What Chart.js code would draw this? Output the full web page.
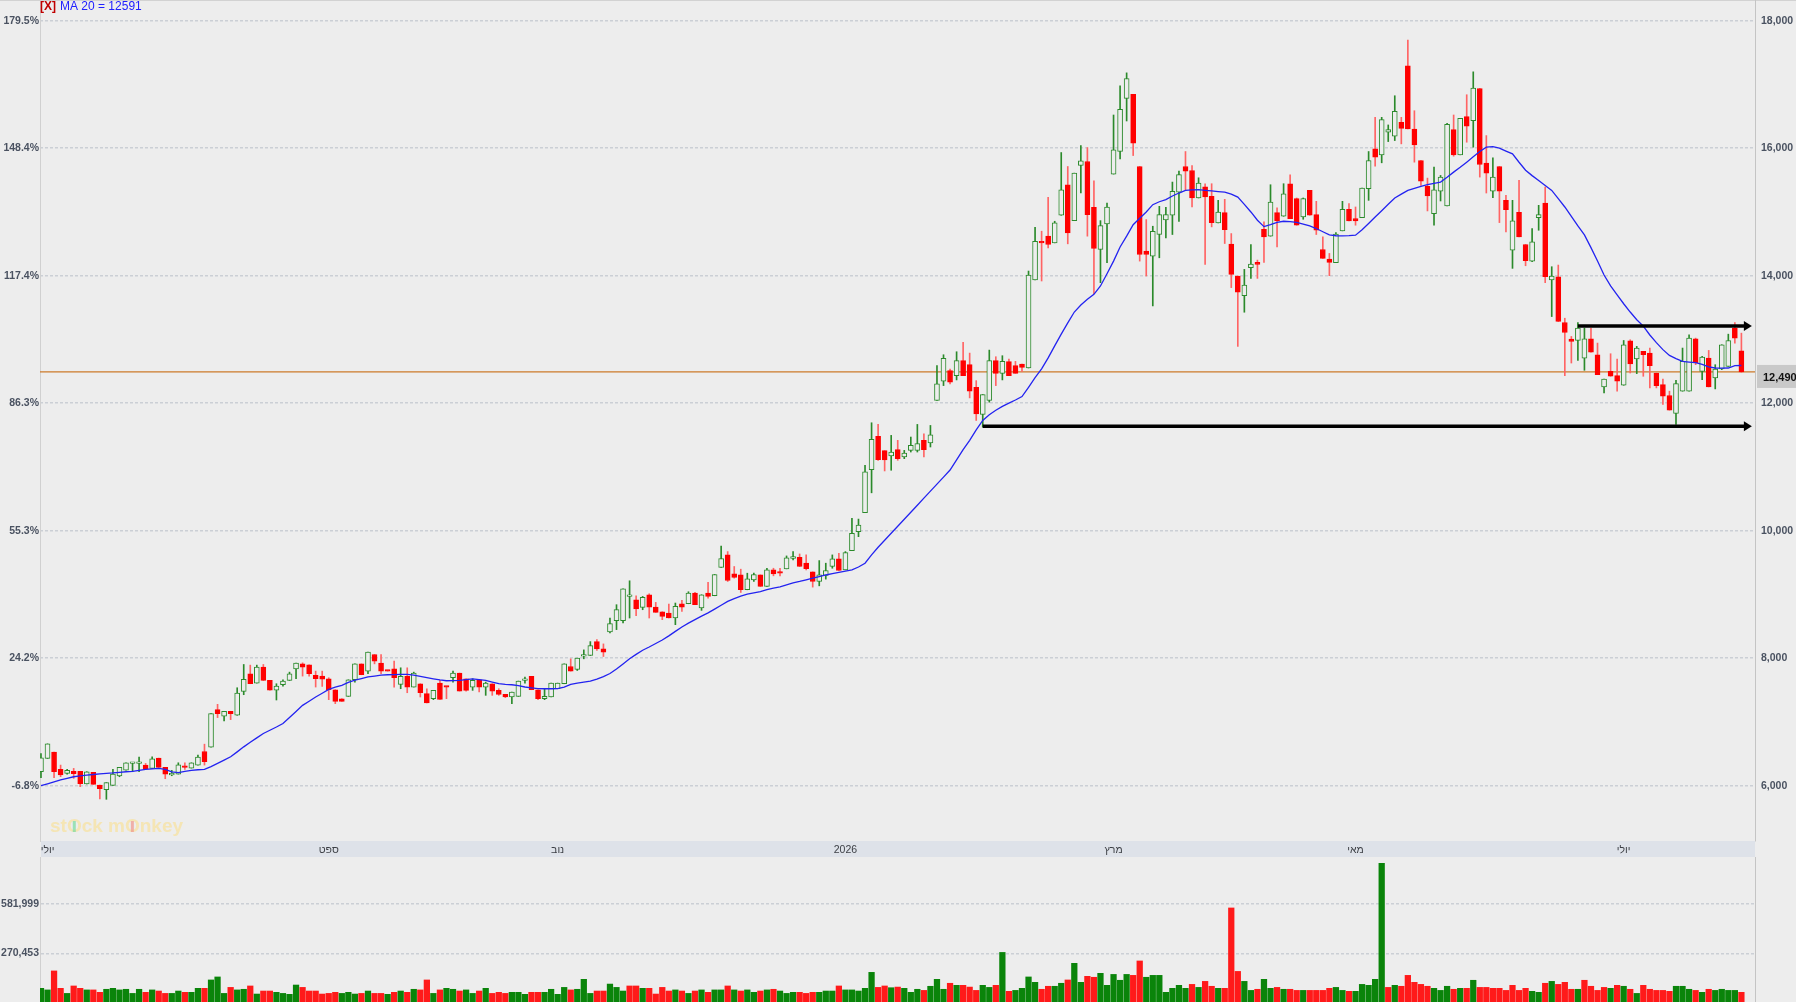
<!DOCTYPE html>
<html lang="he">
<head>
<meta charset="utf-8">
<title>MA 20</title>
<script src="https://cdn.jsdelivr.net/npm/chart.js@4.4.1/dist/chart.umd.min.js"></script>
<style>
  html, body { margin: 0; padding: 0; background: #ededed; }
  #wrap { position: relative; width: 1796px; height: 1002px; overflow: hidden; background: #ededed; }
  #priceChart { position: absolute; left: 0; top: 0; }
  #volChart { position: absolute; left: 0; top: 857px; }
</style>
</head>
<body>
<div id="wrap">
  <canvas id="priceChart" width="1796" height="857"></canvas>
  <canvas id="volChart" width="1796" height="145"></canvas>
</div>
<script>
// נתוני נרות יומיים (פתיחה / גבוה / נמוך / סגירה)
const candleOpen = [
  6219, 6427, 6526, 6255, 6193, 6224, 6224, 6026, 6208, 6010,
  5938, 6005, 6151, 6245, 6349, 6349, 6323, 6271, 6432, 6286,
  6167, 6182, 6307, 6276, 6323, 6536, 6604, 7193, 7089, 7167,
  7104, 7479, 7755, 7609, 7859, 7651, 7500, 7583, 7651, 7833,
  7911, 7896, 7729, 7719, 7677, 7505, 7364, 7401, 7661, 7911,
  7797, 8057, 7922, 7807, 7833, 7589, 7714, 7547, 7599, 7443,
  7365, 7609, 7557, 7693, 7766, 7677, 7547, 7661, 7547, 7599,
  7495, 7432, 7391, 7401, 7651, 7714, 7505, 7365, 7391, 7521,
  7599, 7870, 7823, 8031, 8042, 8260, 8146, 8412, 8589, 8589,
  8969, 8917, 8797, 8995, 8802, 8729, 8708, 8630, 8854, 8854,
  9021, 8787, 9021, 8979, 9422, 9620, 9323, 9307, 9073, 9229,
  9307, 9125, 9385, 9344, 9401, 9563, 9583, 9490, 9354, 9203,
  9297, 9438, 9557, 9385, 9688, 9984, 10281, 10958, 11479, 11255,
  11172, 11271, 11156, 11260, 11260, 11417, 11375, 12042, 12344, 12510,
  12432, 12667, 12604, 12250, 11823, 12042, 12667, 12469, 12651, 12589,
  12615, 12552, 13932, 14536, 14620, 14515, 14948, 15427, 14864, 15729,
  15791, 15073, 14411, 14812, 15594, 15948, 16781, 16844, 15713, 14385,
  14307, 14646, 14875, 14948, 15310, 15713, 15651, 15219, 15396, 15245,
  14828, 14990, 14495, 13995, 13688, 14125, 14208, 14729, 14620, 14990,
  14932, 15443, 15208, 14922, 15338, 14958, 14411, 14260, 14203, 14703,
  15042, 14896, 14911, 15365, 15990, 15896, 16250, 16187, 16406, 17292,
  16302, 15807, 15401, 14974, 15328, 15094, 16292, 15896, 16495, 16432,
  16937, 15766, 15328, 15713, 15182, 14401, 14995, 14490, 14229, 14911,
  15141, 13932, 13984, 13266, 13005, 12984, 12708, 13010, 12760, 12255,
  12500, 12432, 12281, 12979, 12693, 12813, 12786, 12474, 12292, 12120,
  11839, 12188, 12188, 13010, 12500, 12708, 12396, 12536, 12578, 13177, 12823
];
const candleHigh = [
  6505, 6656, 6526, 6323, 6255, 6271, 6224, 6219, 6208, 6010,
  6047, 6255, 6286, 6359, 6365, 6448, 6349, 6453, 6432, 6286,
  6240, 6359, 6359, 6359, 6479, 6651, 7130, 7276, 7167, 7167,
  7536, 7901, 7891, 7891, 7901, 7651, 7599, 7661, 7781, 7922,
  7927, 7896, 7797, 7797, 7693, 7505, 7364, 7661, 7911, 7911,
  8094, 8057, 8057, 7807, 7953, 7849, 7849, 7781, 7599, 7521,
  7495, 7651, 7557, 7797, 7766, 7677, 7677, 7661, 7625, 7599,
  7521, 7432, 7469, 7641, 7703, 7714, 7505, 7521, 7609, 7609,
  7911, 7990, 8000, 8130, 8260, 8292, 8224, 8630, 8839, 9089,
  9214, 8979, 8969, 9010, 8875, 8729, 8849, 8865, 8906, 9042,
  9031, 8995, 9188, 9313, 9760, 9672, 9438, 9396, 9333, 9333,
  9307, 9411, 9411, 9411, 9604, 9672, 9635, 9620, 9354, 9531,
  9490, 9620, 9646, 9672, 10193, 10182, 11026, 11693, 11667, 11255,
  11495, 11417, 11260, 11469, 11667, 11521, 11651, 12589, 12760, 12536,
  12807, 12953, 12786, 12354, 12135, 12833, 12729, 12745, 12693, 12656,
  12615, 14073, 14760, 14698, 15229, 14854, 15932, 15713, 15609, 16042,
  16010, 15489, 14864, 15140, 16521, 16979, 17182, 16844, 15713, 14880,
  14776, 15088, 15073, 15469, 15640, 15948, 15729, 15536, 15443, 15443,
  15182, 15198, 14661, 13995, 14099, 14490, 14245, 14844, 15427, 15063,
  15443, 15583, 15219, 15219, 15338, 15167, 14609, 14349, 14677, 15167,
  15130, 15078, 15375, 15948, 16484, 16484, 16365, 16823, 16484, 17698,
  16588, 15807, 15531, 15703, 15573, 16391, 16521, 16469, 16839, 17198,
  16937, 16198, 15849, 15713, 15260, 15182, 15495, 14490, 14740, 15104,
  15391, 14141, 14167, 13333, 13047, 13266, 13177, 13177, 12943, 12380,
  12776, 12693, 12984, 12995, 12891, 12813, 12865, 12474, 12380, 12188,
  12359, 12865, 13073, 13021, 12734, 12828, 12604, 12917, 13083, 13266, 13099
];
const candleLow = [
  6125, 6427, 6125, 6141, 6182, 6115, 5984, 6026, 6021, 5792,
  5786, 6005, 6140, 6245, 6219, 6219, 6266, 6271, 6286, 6109,
  6156, 6182, 6255, 6276, 6323, 6323, 6604, 7068, 7016, 7036,
  7104, 7427, 7599, 7609, 7651, 7500, 7344, 7562, 7651, 7677,
  7719, 7719, 7547, 7557, 7349, 7286, 7323, 7401, 7625, 7740,
  7755, 7911, 7755, 7797, 7547, 7521, 7458, 7547, 7391, 7297,
  7349, 7354, 7365, 7625, 7484, 7484, 7495, 7469, 7417, 7417,
  7417, 7380, 7286, 7401, 7609, 7505, 7349, 7349, 7391, 7521,
  7599, 7797, 7807, 7990, 8042, 8120, 8026, 8396, 8448, 8552,
  8630, 8667, 8760, 8630, 8719, 8604, 8630, 8526, 8734, 8854,
  8839, 8750, 8943, 8979, 9422, 9203, 9255, 9031, 9073, 9203,
  9125, 9125, 9292, 9292, 9401, 9542, 9438, 9385, 9115, 9135,
  9240, 9411, 9375, 9385, 9688, 9906, 10281, 10594, 11104, 10937,
  10948, 11104, 11130, 11234, 11234, 11156, 11313, 12042, 12276, 12302,
  12365, 12432, 12083, 11729, 11625, 12016, 12276, 12365, 12432, 12469,
  12495, 12552, 13932, 13917, 14437, 14515, 14948, 14500, 14864, 15297,
  14620, 13719, 13891, 14203, 15594, 15833, 16427, 15885, 14229, 13995,
  13526, 14281, 14594, 14646, 14850, 15338, 15078, 15219, 14177, 14766,
  14828, 14505, 13813, 12891, 13427, 13958, 13958, 14208, 14620, 14453,
  14932, 14896, 14792, 14885, 14948, 14646, 14271, 14000, 14203, 14703,
  14859, 14792, 14911, 15182, 15719, 15771, 16104, 16120, 16068, 16302,
  15781, 15417, 15016, 14792, 15172, 15094, 15875, 15896, 16094, 16016,
  15547, 15297, 15224, 14833, 14687, 14115, 14609, 14156, 14219, 14713,
  13891, 13359, 13281, 12432, 12630, 12672, 12516, 12802, 12448, 12162,
  12422, 12188, 12281, 12474, 12464, 12422, 12240, 12240, 11979, 11891,
  11667, 12188, 12188, 12604, 12370, 12255, 12224, 12526, 12578, 12943, 12484
];
const candleClose = [
  6437, 6656, 6219, 6167, 6240, 6188, 6031, 6219, 6021, 5953,
  6047, 6182, 6286, 6359, 6359, 6359, 6266, 6422, 6286, 6182,
  6193, 6328, 6286, 6359, 6448, 6375, 7130, 7130, 7167, 7130,
  7453, 7667, 7599, 7859, 7651, 7500, 7562, 7641, 7755, 7922,
  7859, 7755, 7677, 7672, 7505, 7323, 7323, 7661, 7911, 7740,
  8094, 7953, 7797, 7797, 7693, 7714, 7547, 7766, 7458, 7297,
  7495, 7354, 7547, 7766, 7484, 7495, 7651, 7547, 7609, 7484,
  7432, 7391, 7469, 7641, 7661, 7505, 7365, 7401, 7609, 7609,
  7911, 7797, 8000, 8042, 8198, 8146, 8094, 8542, 8761, 9089,
  8995, 8771, 8953, 8802, 8719, 8656, 8630, 8813, 8802, 9021,
  8839, 8995, 8969, 9313, 9563, 9219, 9266, 9073, 9245, 9313,
  9125, 9385, 9323, 9333, 9573, 9594, 9438, 9406, 9203, 9307,
  9375, 9557, 9375, 9656, 9958, 10089, 10922, 11432, 11115, 11110,
  11234, 11130, 11219, 11339, 11365, 11271, 11505, 12302, 12703, 12328,
  12667, 12432, 12187, 11833, 12135, 12667, 12469, 12656, 12432, 12469,
  12562, 14010, 14541, 14515, 14489, 14828, 15349, 14672, 15609, 15802,
  14958, 14427, 14786, 15078, 15974, 16609, 17094, 16078, 14333, 14333,
  14698, 14958, 14958, 15323, 15585, 15641, 15219, 15453, 15234, 14833,
  15000, 14724, 14021, 13740, 13854, 14182, 14177, 14609, 15156, 14859,
  15286, 14896, 14792, 15208, 14948, 14713, 14271, 14208, 14651, 15042,
  14859, 14859, 15375, 15807, 15859, 16448, 16292, 16578, 16312, 16302,
  16052, 15484, 15250, 15349, 15547, 16375, 15896, 16469, 16344, 16943,
  15745, 15609, 15547, 15328, 15036, 14859, 14609, 14234, 14531, 14958,
  13984, 13995, 13281, 13109, 12969, 13177, 13010, 12802, 12448, 12380,
  12422, 12344, 12917, 12615, 12865, 12760, 12589, 12276, 12109, 11891,
  12307, 12656, 13021, 12630, 12724, 12255, 12536, 12917, 12984, 13021, 12490
];
// ממוצע נע 20 כפי שנקרא מהגרף
const ma20 = [
  6000, 6030, 6060, 6090, 6115, 6140, 6155, 6167, 6175, 6185,
  6193, 6200, 6210, 6218, 6225, 6240, 6255, 6265, 6271, 6255,
  6215, 6205, 6225, 6240, 6250, 6255, 6300, 6349, 6400, 6453,
  6530, 6609, 6680, 6750, 6818, 6870, 6920, 6974, 7070, 7165,
  7260, 7325, 7391, 7450, 7510, 7545, 7573, 7620, 7655, 7680,
  7705, 7720, 7735, 7740, 7742, 7745, 7745, 7735, 7715, 7695,
  7677, 7660, 7646, 7648, 7651, 7662, 7675, 7665, 7652, 7625,
  7600, 7590, 7583, 7570, 7548, 7535, 7522, 7520, 7520, 7522,
  7545, 7590, 7610, 7625, 7640, 7670, 7710, 7760, 7830, 7910,
  7990, 8060, 8125, 8175, 8230, 8285, 8350, 8420, 8490, 8550,
  8605, 8660, 8710, 8770, 8830, 8890, 8935, 8975, 9005, 9025,
  9045, 9075, 9100, 9120, 9150, 9180, 9203, 9230, 9255, 9280,
  9305, 9325, 9345, 9365, 9385, 9430, 9490, 9620, 9740, 9850,
  9960, 10070, 10180, 10290, 10400, 10510, 10620, 10730, 10840, 10952,
  11110, 11270, 11417, 11580, 11729, 11820, 11890, 11950, 12000, 12050,
  12104, 12250, 12400, 12540, 12710, 12900, 13083, 13260, 13430, 13540,
  13630, 13708, 13839, 14030, 14229, 14450, 14620, 14800, 14900, 15000,
  15114, 15160, 15193, 15250, 15297, 15338, 15345, 15349, 15340, 15330,
  15320, 15312, 15280, 15234, 15120, 15000, 14870, 14770, 14800, 14835,
  14854, 14848, 14837, 14810, 14780, 14740, 14690, 14640, 14627, 14625,
  14628, 14635, 14720, 14820, 14922, 15020, 15120, 15219, 15280, 15338,
  15370, 15400, 15427, 15450, 15469, 15545, 15625, 15700, 15781, 15865,
  15948, 16016, 16025, 16000, 15955, 15911, 15780, 15655, 15570, 15495,
  15415, 15338, 15210, 15078, 14930, 14780, 14640, 14440, 14230, 14010,
  13840, 13700, 13560, 13430, 13310, 13210, 13070, 12950, 12840, 12750,
  12700, 12656, 12645, 12635, 12610, 12570, 12552, 12550, 12552, 12590, 12591
];
// מחזור מסחר
const volume = [
  49000, 39000, 159000, 49000, 17000, 64000, 49000, 39000, 39000, 24000,
  43000, 49000, 39000, 43000, 17000, 43000, 24000, 39000, 32000, 17000,
  17000, 32000, 24000, 24000, 49000, 49000, 102000, 121000, 17000, 55000,
  39000, 43000, 64000, 13000, 32000, 32000, 24000, 17000, 11000, 70000,
  55000, 32000, 32000, 13000, 17000, 24000, 17000, 24000, 13000, 17000,
  32000, 17000, 17000, 11000, 24000, 32000, 24000, 43000, 39000, 102000,
  17000, 39000, 49000, 43000, 32000, 39000, 17000, 32000, 49000, 17000,
  24000, 17000, 24000, 24000, 11000, 24000, 24000, 24000, 43000, 11000,
  55000, 39000, 43000, 106000, 17000, 32000, 32000, 76000, 55000, 32000,
  64000, 64000, 49000, 49000, 13000, 55000, 32000, 39000, 32000, 17000,
  32000, 39000, 24000, 39000, 39000, 64000, 39000, 32000, 39000, 24000,
  32000, 39000, 43000, 32000, 17000, 24000, 24000, 17000, 24000, 24000,
  32000, 32000, 64000, 39000, 39000, 32000, 49000, 150000, 55000, 64000,
  53000, 57000, 49000, 24000, 43000, 36000, 62000, 106000, 43000, 81000,
  68000, 68000, 57000, 36000, 68000, 55000, 68000, 276000, 30000, 36000,
  49000, 121000, 87000, 43000, 62000, 62000, 81000, 102000, 207000, 87000,
  125000, 119000, 144000, 68000, 137000, 100000, 137000, 131000, 222000, 119000,
  131000, 131000, 24000, 49000, 68000, 49000, 74000, 55000, 93000, 62000,
  49000, 49000, 557000, 156000, 93000, 36000, 43000, 106000, 49000, 55000,
  43000, 43000, 36000, 36000, 36000, 36000, 36000, 49000, 55000, 36000,
  30000, 30000, 74000, 68000, 106000, 839000, 55000, 68000, 62000, 131000,
  87000, 74000, 62000, 49000, 36000, 62000, 43000, 49000, 49000, 100000,
  55000, 55000, 49000, 49000, 36000, 68000, 36000, 49000, 30000, 24000,
  81000, 93000, 74000, 87000, 43000, 43000, 100000, 62000, 36000, 55000,
  49000, 68000, 62000, 43000, 17000, 68000, 43000, 36000, 36000, 30000,
  62000, 62000, 43000, 36000, 24000, 43000, 36000, 43000, 36000, 36000, 24000
];

// תוויות ציר הזמן (מיקום הנר והטקסט)
const monthTickIdx = [1, 44, 79, 123, 164, 201, 242];
const monthLabels = ['יולי', 'ספט', 'נוב', '2026', 'מרץ', 'מאי', 'יולי'];

const priceTicks = [6000, 8000, 10000, 12000, 14000, 16000, 18000];
const volumeTicks = [270453, 581999];
const refPrice = 6440;      // בסיס לחישוב האחוזים בציר השמאלי
const lastPrice = 12490;
const levelPrices = [11640, 13211];
const levelStartIdx = [144, 235];
const levelEndIdx = 261.6;

const X_MIN = -0.15, X_MAX = 262.08;
const FONT = 'Arial, "Liberation Sans", "DejaVu Sans", sans-serif';
Chart.defaults.font.family = FONT;

const UP_LINE = '#2b8a2b';
const DOWN_FILL = '#ff0000';
const BG = '#ededed';
const AXIS_TEXT = '#4a5261';

const isUp = i => candleClose[i] >= candleOpen[i];

const bodyData = candleOpen.map((o, i) => ({ x: i, y: [o, candleClose[i]] }));
const wickData = candleLow.map((l, i) => ({ x: i, y: [l, candleHigh[i]] }));
const maData = ma20.map((v, i) => ({ x: i, y: v }));

const gridStyle = { color: '#cbcfd5', lineWidth: 1.5, drawTicks: false };
const axisFont = { size: 10.5, weight: 'bold' };

// רוחב קבוע לציר, בלי ריפוד אוטומטי של Chart.js
function fixWidth(w) {
  return s => { s.width = w; s.paddingTop = 0; s.paddingBottom = 0; };
}

// קישוטים: פס תאריכים, קו מחיר אחרון, חיצים, מקרא
const priceDecor = {
  id: 'priceDecor',
  beforeDraw(chart) {
    const { ctx, chartArea: a } = chart;
    ctx.save();
    ctx.fillStyle = '#dee2e9';
    ctx.fillRect(a.left + 1, a.bottom, a.right - a.left - 1, chart.height - a.bottom);
    ctx.strokeStyle = '#d2d2d2';
    ctx.lineWidth = 1;
    ctx.beginPath();
    ctx.moveTo(0, 0.5);
    ctx.lineTo(chart.width, 0.5);
    ctx.stroke();
    // סימן מים
    ctx.font = 'bold 19px ' + FONT;
    ctx.textBaseline = 'middle';
    const parts = ['st', 'O', 'ck m', 'O', 'nkey'];
    let x = 50;
    parts.forEach((p, i) => {
      ctx.fillStyle = 'rgba(247, 226, 160, 0.75)';
      ctx.fillText(p, x, 827);
      const w = ctx.measureText(p).width;
      if (p === 'O') {
        ctx.fillStyle = i === 1 ? 'rgba(120, 220, 160, 0.7)' : 'rgba(240, 150, 140, 0.7)';
        ctx.fillRect(x + w / 2 - 1.5, 821, 3, 11);
      }
      x += w;
    });
    ctx.restore();
  },
  beforeDatasetsDraw(chart) {
    const { ctx, chartArea: a, scales } = chart;
    const y = scales.y.getPixelForValue(lastPrice);
    ctx.save();
    ctx.strokeStyle = '#cc7a2a';
    ctx.lineWidth = 1.2;
    ctx.beginPath();
    ctx.moveTo(a.left, y);
    ctx.lineTo(a.right, y);
    ctx.stroke();
    ctx.restore();
  },
  afterDatasetsDraw(chart) {
    const { ctx, scales } = chart;
    ctx.save();
    ctx.strokeStyle = '#000';
    ctx.fillStyle = '#000';
    ctx.lineWidth = 3.5;
    levelPrices.forEach((p, i) => {
      const y = scales.y.getPixelForValue(p);
      const x0 = scales.x.getPixelForValue(levelStartIdx[i]);
      const x1 = scales.x.getPixelForValue(levelEndIdx);
      ctx.beginPath();
      ctx.moveTo(x0, y);
      ctx.lineTo(x1 - 6, y);
      ctx.stroke();
      ctx.beginPath();
      ctx.moveTo(x1 - 8, y - 5);
      ctx.lineTo(x1, y);
      ctx.lineTo(x1 - 8, y + 5);
      ctx.closePath();
      ctx.fill();
    });
    ctx.restore();
  },
  afterDraw(chart) {
    const { ctx, chartArea: a, scales } = chart;
    const y = scales.y.getPixelForValue(lastPrice);
    ctx.save();
    ctx.fillStyle = '#c9c9c9';
    ctx.fillRect(a.right + 2, y - 7, chart.width - a.right - 2, 23);
    ctx.fillStyle = '#111';
    ctx.font = 'bold 11px ' + FONT;
    ctx.textBaseline = 'middle';
    ctx.fillText(lastPrice.toLocaleString('en-US'), a.right + 8, y + 6.5);
    // מקרא
    ctx.font = 'bold 12px ' + FONT;
    ctx.fillStyle = '#c00000';
    ctx.fillText('[X]', 40, 7);
    ctx.font = '12px ' + FONT;
    ctx.fillStyle = '#2020ff';
    ctx.fillText('MA 20 = ' + ma20[ma20.length - 1], 60, 7);
    ctx.restore();
  }
};

new Chart(document.getElementById('priceChart'), {
  type: 'bar',
  data: {
    datasets: [
      {
        type: 'line',
        label: 'MA 20',
        data: maData,
        borderColor: '#2323f0',
        borderWidth: 1.3,
        pointRadius: 0,
        tension: 0,
        order: 0
      },
      {
        label: 'body',
        data: bodyData,
        grouped: false,
        barThickness: 5,
        minBarLength: 1.5,
        borderSkipped: false,
        borderWidth: 1,
        backgroundColor: c => isUp(c.dataIndex) ? BG : DOWN_FILL,
        borderColor: c => isUp(c.dataIndex) ? UP_LINE : DOWN_FILL,
        order: 1
      },
      {
        label: 'wick',
        data: wickData,
        grouped: false,
        barThickness: 1,
        borderWidth: 0,
        borderSkipped: false,
        backgroundColor: c => isUp(c.dataIndex) ? UP_LINE : '#ff6464',
        order: 2
      }
    ]
  },
  options: {
    responsive: false,
    animation: false,
    events: [],
    layout: { padding: 0 },
    plugins: { legend: { display: false }, tooltip: { enabled: false } },
    scales: {
      x: {
        type: 'linear',
        position: 'bottom',
        min: X_MIN,
        max: X_MAX,
        offset: false,
        grid: { display: false, drawTicks: false, offset: false },
        border: { display: false },
        afterBuildTicks: s => { s.ticks = monthTickIdx.map(v => ({ value: v })); },
        afterFit: s => { s.height = 16; s.paddingLeft = 0; s.paddingRight = 0; },
        ticks: {
          autoSkip: false,
          maxRotation: 0,
          padding: 3,
          color: '#3c3f45',
          font: { size: 10.5 },
          callback: (v, i) => monthLabels[i]
        }
      },
      yPct: {
        type: 'linear',
        position: 'left',
        min: 5132,
        max: 18325,
        grid: { display: false, drawTicks: false },
        border: { display: true, color: '#d0d0d0' },
        afterBuildTicks: s => { s.ticks = priceTicks.map(v => ({ value: v })); },
        afterFit: fixWidth(40),
        ticks: {
          padding: 1,
          color: AXIS_TEXT,
          font: axisFont,
          callback: v => ((v / refPrice - 1) * 100).toFixed(1) + '%'
        }
      },
      y: {
        type: 'linear',
        position: 'right',
        min: 5132,
        max: 18325,
        grid: gridStyle,
        border: { display: true, color: '#c4c4c4', dash: [3, 2] },
        afterBuildTicks: s => { s.ticks = priceTicks.map(v => ({ value: v })); },
        afterFit: fixWidth(41),
        ticks: {
          padding: 6,
          color: AXIS_TEXT,
          font: axisFont,
          callback: v => v.toLocaleString('en-US')
        }
      }
    }
  },
  plugins: [priceDecor]
});

// גרף מחזורים
const VOL_MIN = -37300, VOL_MAX = 879000;
const volData = volume.map((v, i) => ({ x: i, y: [VOL_MIN, v] }));
const volUp = i => i === 0 ? isUp(0) : candleClose[i] >= candleClose[i - 1];

new Chart(document.getElementById('volChart'), {
  type: 'bar',
  data: {
    datasets: [{
      label: 'volume',
      data: volData,
      barThickness: 5.6,
      borderWidth: 0,
      borderSkipped: false,
      backgroundColor: c => volUp(c.dataIndex) ? '#0a840a' : '#ff1a1a'
    }]
  },
  options: {
    responsive: false,
    animation: false,
    events: [],
    layout: { padding: 0 },
    plugins: { legend: { display: false }, tooltip: { enabled: false } },
    scales: {
      x: {
        type: 'linear',
        display: false,
        min: X_MIN,
        max: X_MAX,
        offset: false,
        grid: { offset: false }
      },
      y: {
        type: 'linear',
        position: 'left',
        min: VOL_MIN,
        max: VOL_MAX,
        grid: gridStyle,
        border: { display: true, color: '#d0d0d0', dash: [3, 2] },
        afterBuildTicks: s => { s.ticks = volumeTicks.map(v => ({ value: v })); },
        afterFit: fixWidth(40),
        ticks: {
          padding: 1,
          color: AXIS_TEXT,
          font: axisFont,
          callback: v => v.toLocaleString('en-US')
        }
      },
      yR: {
        type: 'linear',
        position: 'right',
        min: 0,
        max: 1,
        grid: { display: false, drawTicks: false },
        border: { display: true, color: '#c4c4c4' },
        afterFit: fixWidth(41),
        ticks: { display: false }
      }
    }
  }
});
</script>
</body>
</html>
